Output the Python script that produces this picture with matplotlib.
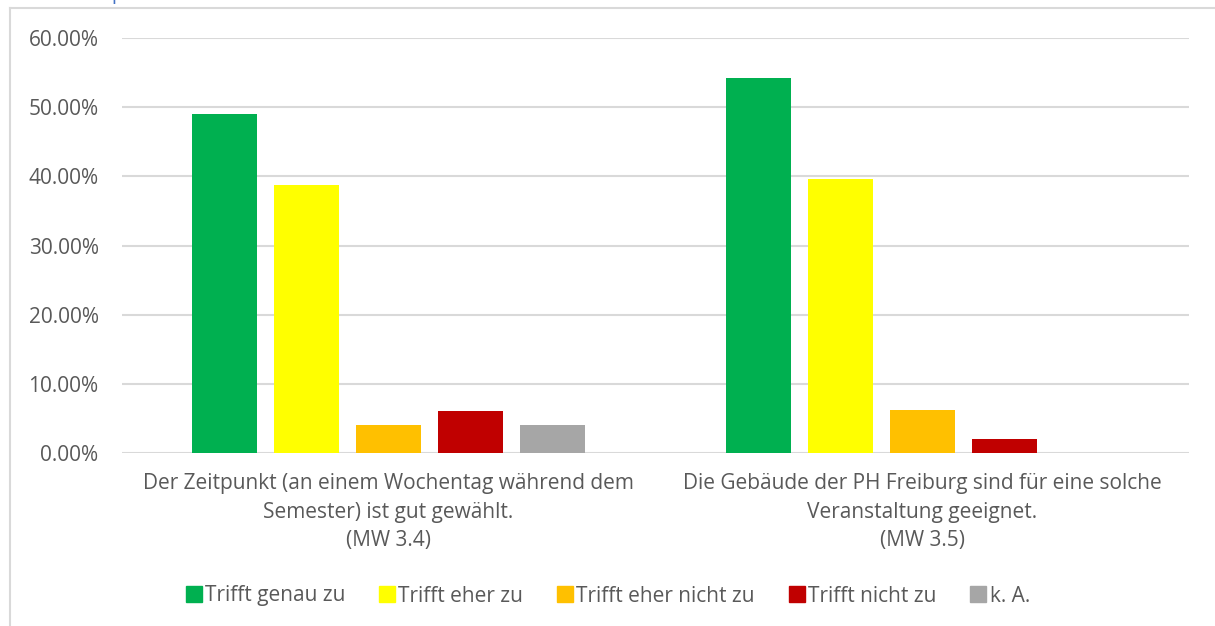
import matplotlib.pyplot as plt
import numpy as np
from matplotlib.lines import Line2D
from matplotlib.ticker import FuncFormatter

plt.rcParams['font.family'] = ['Open Sans', 'DejaVu Sans']

# Daten
categories = ["Der Zeitpunkt (an einem Wochentag während dem\nSemester) ist gut gewählt.\n(MW 3.4)",
              "Die Gebäude der PH Freiburg sind für eine solche\nVeranstaltung geeignet.\n(MW 3.5)"]
series = ["Trifft genau zu", "Trifft eher zu", "Trifft eher nicht zu", "Trifft nicht zu", "k. A."]
genau_zu = [0.4898, 0.5417]
eher_zu = [0.3878, 0.3958]
eher_nicht_zu = [0.0408, 0.0625]
nicht_zu = [0.0612, 0.0208]
keine_angabe = [0.0408, 0.0]
colors = ["#00b050", "#ffff00", "#ffc000", "#c00000", "#a6a6a6"]

values = [genau_zu, eher_zu, eher_nicht_zu, nicht_zu, keine_angabe]
text_col = "#595959"
grid_col = "#d9d9d9"

fig = plt.figure(figsize=(12.15, 6.26), dpi=100)
ax = fig.add_axes([0.1, 0.2764, 0.879, 0.6627])

x = np.arange(len(categories))
step = 0.1536
width = 0.1217
for i, (name, vals) in enumerate(zip(series, values)):
    ax.bar(x + (i - 2) * step, vals, width=width, color=colors[i], label=name, zorder=3)

ax.set_xlim(-0.5, 1.5)
ax.set_ylim(0, 0.6)
ax.set_yticks(np.arange(0, 0.61, 0.1))
ax.yaxis.set_major_formatter(FuncFormatter(lambda v, p: f"{v * 100:.2f}%"))
ax.set_xticks(x)
ax.set_xticklabels(categories, fontsize=15, color=text_col, linespacing=1.48)
ax.tick_params(axis='y', labelsize=15, colors=text_col, length=0, pad=16.5)
ax.tick_params(axis='x', length=0, pad=14.5)
ax.grid(axis='y', color=grid_col, linewidth=1.5, zorder=0)
for s in ax.spines.values():
    s.set_visible(False)

handles = [Line2D([], [], marker='s', linestyle='none', markersize=11, color=c) for c in colors]
fig.legend(handles, series, loc='center', bbox_to_anchor=(0.5, 1 - 596 / 626), ncol=5,
           frameon=False, fontsize=15, labelcolor=text_col, handletextpad=0.15,
           columnspacing=1.6, handlelength=0.8)

# Rahmen des Diagramms
fig.add_artist(Line2D([10 / 1215, 1], [1 - 8 / 626, 1 - 8 / 626], color=grid_col, linewidth=1.5))
fig.add_artist(Line2D([10 / 1215, 10 / 1215], [0, 1 - 8 / 626], color=grid_col, linewidth=1.5))
fig.text(111 / 1215, 1.0, "p", color="#4472c4", fontsize=14, va='baseline')

fig.savefig("out.png", dpi=100)
